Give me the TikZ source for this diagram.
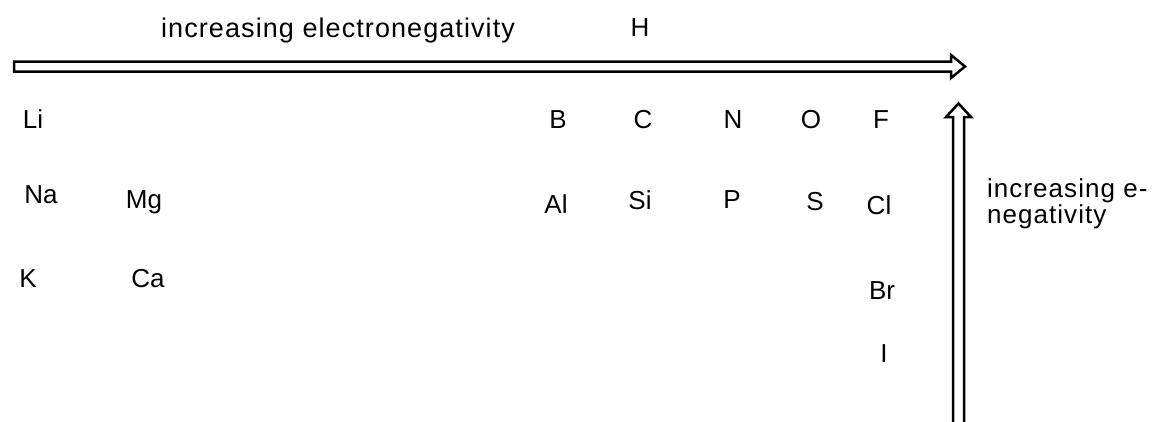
\documentclass[tikz,border=0pt]{standalone}
\usepackage{fontspec}
\setmainfont{Liberation Sans}
\newfontfamily\spacedfont[LetterSpace=4]{Liberation Sans}
\tikzset{
    elem/.style={anchor=base, inner sep=0pt, font=\fontsize{26}{30}\selectfont}, % 元素符号的样式
    trend/.style={anchor=base west, inner sep=0pt, align=left}, % 趋势说明文字的样式
    hollow arrow/.style={draw, line width=2.5pt, line join=miter} % 空心箭头的样式
}
\begin{document}
\begin{tikzpicture}[x=1pt, y=-1pt]
            \useasboundingbox (0,0) rectangle (1157,421);
            \clip (0,0) rectangle (1157,421);

            % 水平箭头
            \draw[hollow arrow] (14,61.5) -- (951,61.5) -- (951,55) -- (965,66.5) -- (951,78) -- (951,71.5) -- (14,71.5) -- cycle;
            % 竖直箭头
            \draw[hollow arrow] (953,430) -- (953,117) -- (946,117) -- (958.5,103.5) -- (971,117) -- (964,117) -- (964,430);

            \node[trend, font=\spacedfont\fontsize{27}{30}\selectfont] (toptext) at (161,37) {increasing electronegativity};
            % 两行文字, base 取最后一行
            \node[trend, font=\spacedfont\fontsize{26}{26}\selectfont] (sidetext) at (987,223) {increasing e-\\negativity};

            \foreach \el/\x/\y in {H/640/36, Li/33/128, B/558/128, C/643/128, N/733/128, O/811/128, F/881/128,
                Na/41/203, Mg/144/208, Al/556/213, Si/640/209, P/732/208, S/815/210, Cl/879/214,
                K/28/287, Ca/148/287, Br/882/299, I/884/362}
                {\node[elem] (\el) at (\x,\y) {\el};}
        \end{tikzpicture}
\end{document}
